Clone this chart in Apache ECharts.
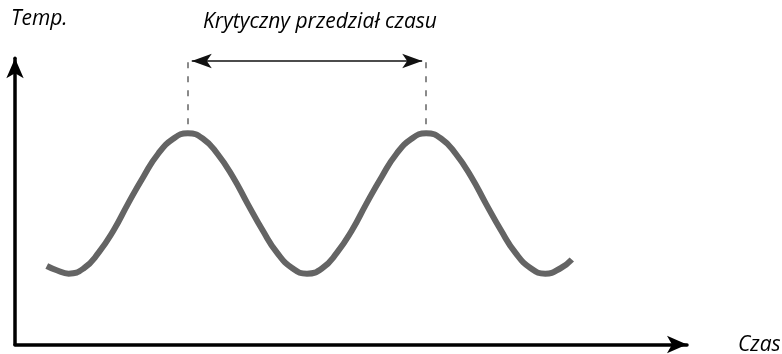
<!DOCTYPE html>
<html>
<head>
<meta charset="utf-8">
<script src="https://cdn.jsdelivr.net/npm/echarts@6/dist/echarts.min.js"></script>
<style>
  html, body { margin: 0; padding: 0; background: #fff; }
  #chart { width: 782px; height: 354px; }
</style>
</head>
<body>
<div id="chart"></div>
<script>
// Temperature oscillation over time (schematic units)
const timePoints = [
  4.8, 6.4, 8.1, 10.4, 12.6, 14.9, 17.1, 19.4, 21.6, 23.9,
  26.1, 28.4, 30.6, 32.9, 35.1, 37.4, 39.6, 41.9, 44.1, 46.4,
  48.6, 50.9, 53.1, 55.4, 57.6, 59.9, 62.1, 64.4, 66.6, 68.9,
  71.1, 73.4, 75.6, 77.9, 80.1, 82.4, 84.1
];
const tempValues = [
  27.7, 26.1, 25.0, 26.9, 32.3, 40.3, 49.8, 59.2, 67.2, 72.6,
  74.5, 72.6, 67.2, 59.2, 49.8, 40.3, 32.3, 26.9, 25.0, 26.9,
  32.3, 40.3, 49.8, 59.2, 67.2, 72.6, 74.5, 72.6, 67.2, 59.2,
  49.8, 40.3, 32.3, 26.9, 25.0, 26.9, 30.0
];

// Two consecutive temperature peaks bounding the critical interval
const peakTimes = [26.1, 62.1];
const arrowEnds = [26.7, 61.5];
const markerTop = 100;        // height of the interval arrow
const dashTop = 99.6;         // upper end of the dashed guides
const dashBottom = 77.2;      // lower end, just above the peak

const axisTitleY = 'Temp.';
const axisTitleX = 'Czas';
const intervalLabel = 'Krytyczny przedział czasu';

const chart = echarts.init(document.getElementById('chart'), null, { renderer: 'canvas' });

const series = timePoints.map((t, i) => [t, tempValues[i]]);

const labelFont = 'italic 500 21px "Open Sans", sans-serif';

chart.setOption({
  animation: false,
  backgroundColor: '#ffffff',
  grid: { left: 15, right: 95, top: 58.2, bottom: 9.5, containLabel: false },
  xAxis: {
    type: 'value', min: 0, max: 101.5,
    axisLine: {
      show: true, onZero: false,
      symbol: ['none', 'arrow'], symbolSize: [13, 20],
      lineStyle: { color: '#000', width: 3.5 }
    },
    axisTick: { show: false }, axisLabel: { show: false }, splitLine: { show: false }
  },
  yAxis: {
    type: 'value', min: 0, max: 101,
    axisLine: {
      show: true, onZero: false,
      symbol: ['none', 'arrow'], symbolSize: [13, 20],
      lineStyle: { color: '#000', width: 3.5 }
    },
    axisTick: { show: false }, axisLabel: { show: false }, splitLine: { show: false }
  },
  series: [{
    type: 'line',
    data: series,
    smooth: true,
    showSymbol: false,
    lineStyle: { color: '#646464', width: 6 },
    markLine: {
      silent: true,
      animation: false,
      label: { show: false },
      data: [
        ...peakTimes.map(t => [
          { coord: [t, dashTop], symbol: 'none', lineStyle: { color: '#8a8a8a', width: 2, type: [6, 8] } },
          { coord: [t, dashBottom], symbol: 'none' }
        ]),
        [
          { coord: [arrowEnds[0], markerTop], symbol: 'arrow', symbolSize: [11, 20], lineStyle: { color: '#111', width: 1.5, type: 'solid' } },
          { coord: [arrowEnds[1], markerTop], symbol: 'arrow', symbolSize: [11, 20] }
        ]
      ]
    }
  }],
  graphic: [
    { type: 'text', style: { x: 11, y: 19.5, text: axisTitleY, font: labelFont, fill: '#000', textVerticalAlign: 'middle' } },
    { type: 'text', style: { x: 320, y: 22, text: intervalLabel, font: labelFont, fill: '#000', textAlign: 'center', textVerticalAlign: 'middle' } },
    { type: 'text', style: { x: 738, y: 344.6, text: axisTitleX, font: labelFont, fill: '#000', textVerticalAlign: 'middle' } }
  ]
});
</script>
</body>
</html>
